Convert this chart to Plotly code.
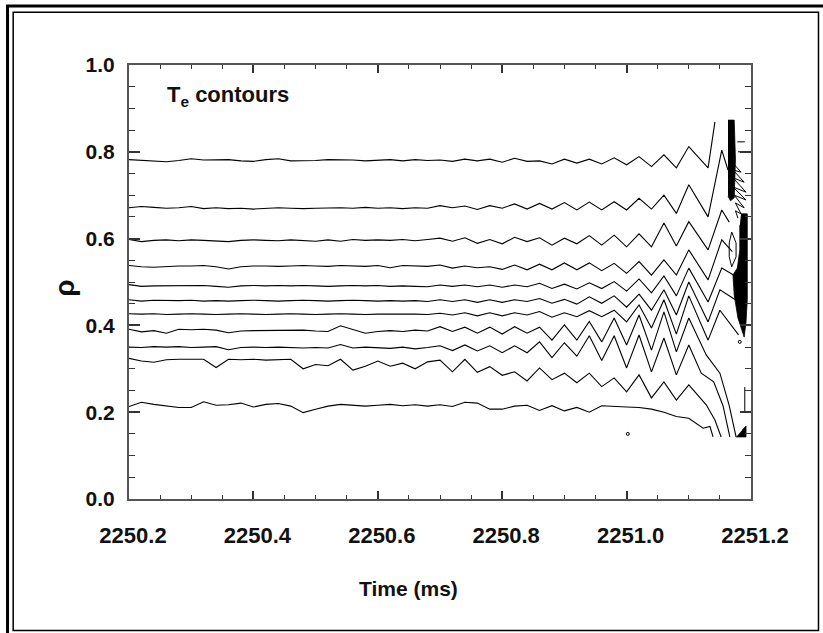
import plotly.graph_objects as go

# ---- time base of the contour tracing (ms) ----
TIME = [2250.20, 2250.22, 2250.24, 2250.26, 2250.28, 2250.30, 2250.32, 2250.34,
        2250.36, 2250.38, 2250.40, 2250.42, 2250.44, 2250.46, 2250.48, 2250.50,
        2250.52, 2250.54, 2250.56, 2250.58, 2250.60, 2250.62, 2250.64, 2250.66,
        2250.68, 2250.70, 2250.72, 2250.74, 2250.76, 2250.78, 2250.80, 2250.82,
        2250.84, 2250.86, 2250.88, 2250.90, 2250.92, 2250.94, 2250.96, 2250.98,
        2251.00, 2251.02, 2251.04, 2251.06, 2251.08, 2251.10]

# ---- Te contour positions (rho) on the time base, outermost level first ----
rho_c1 = [0.782, 0.780, 0.778, 0.777, 0.780, 0.784, 0.781, 0.781, 0.782, 0.779, 0.778, 0.782, 0.784,
          0.779, 0.779, 0.780, 0.782, 0.782, 0.781, 0.779, 0.781, 0.782, 0.779, 0.782, 0.780, 0.781,
          0.778, 0.783, 0.779, 0.783, 0.776, 0.785, 0.778, 0.779, 0.772, 0.783, 0.774, 0.783, 0.772,
          0.786, 0.770, 0.789, 0.766, 0.793, 0.763, 0.812]
rho_c2 = [0.671, 0.674, 0.672, 0.670, 0.671, 0.674, 0.669, 0.671, 0.669, 0.670, 0.668, 0.670, 0.671,
          0.670, 0.669, 0.670, 0.671, 0.671, 0.670, 0.672, 0.670, 0.671, 0.669, 0.671, 0.670, 0.676,
          0.671, 0.675, 0.667, 0.676, 0.670, 0.680, 0.668, 0.681, 0.668, 0.683, 0.666, 0.684, 0.666,
          0.685, 0.666, 0.693, 0.668, 0.700, 0.658, 0.724]
rho_c3 = [0.598, 0.593, 0.596, 0.597, 0.595, 0.597, 0.596, 0.594, 0.593, 0.596, 0.597, 0.596, 0.595,
          0.597, 0.596, 0.594, 0.597, 0.594, 0.598, 0.596, 0.597, 0.596, 0.598, 0.595, 0.598, 0.601,
          0.594, 0.602, 0.589, 0.598, 0.588, 0.603, 0.593, 0.602, 0.585, 0.601, 0.588, 0.607, 0.585,
          0.608, 0.581, 0.611, 0.581, 0.636, 0.583, 0.639]
rho_c4 = [0.538, 0.535, 0.534, 0.536, 0.537, 0.537, 0.538, 0.535, 0.530, 0.535, 0.537, 0.537, 0.536,
          0.537, 0.538, 0.537, 0.536, 0.538, 0.537, 0.536, 0.538, 0.533, 0.538, 0.537, 0.536, 0.539,
          0.532, 0.537, 0.533, 0.535, 0.529, 0.539, 0.528, 0.541, 0.528, 0.544, 0.528, 0.544, 0.526,
          0.543, 0.520, 0.547, 0.516, 0.551, 0.516, 0.574]
rho_c5 = [0.494, 0.490, 0.491, 0.491, 0.492, 0.491, 0.492, 0.490, 0.488, 0.491, 0.492, 0.491, 0.492,
          0.491, 0.492, 0.491, 0.490, 0.491, 0.492, 0.491, 0.492, 0.490, 0.491, 0.490, 0.489, 0.493,
          0.490, 0.493, 0.489, 0.493, 0.488, 0.493, 0.489, 0.497, 0.485, 0.495, 0.484, 0.498, 0.485,
          0.501, 0.479, 0.507, 0.475, 0.514, 0.468, 0.532]
rho_c6 = [0.459, 0.456, 0.458, 0.457, 0.457, 0.458, 0.456, 0.457, 0.456, 0.457, 0.458, 0.457, 0.456,
          0.457, 0.458, 0.457, 0.456, 0.457, 0.458, 0.457, 0.456, 0.457, 0.456, 0.457, 0.455, 0.459,
          0.455, 0.459, 0.453, 0.459, 0.453, 0.459, 0.455, 0.462, 0.451, 0.460, 0.449, 0.466, 0.451,
          0.468, 0.442, 0.472, 0.435, 0.482, 0.424, 0.500]
rho_c7 = [0.427, 0.426, 0.427, 0.425, 0.426, 0.427, 0.426, 0.425, 0.426, 0.427, 0.426, 0.425, 0.426,
          0.427, 0.426, 0.425, 0.426, 0.427, 0.426, 0.425, 0.426, 0.426, 0.427, 0.426, 0.425, 0.428,
          0.424, 0.429, 0.422, 0.429, 0.422, 0.429, 0.424, 0.432, 0.419, 0.429, 0.420, 0.434, 0.420,
          0.435, 0.408, 0.447, 0.394, 0.459, 0.380, 0.468]
rho_c8 = [0.391, 0.385, 0.388, 0.382, 0.391, 0.390, 0.391, 0.389, 0.383, 0.387, 0.388, 0.388, 0.388,
          0.388, 0.389, 0.387, 0.386, 0.399, 0.391, 0.382, 0.386, 0.388, 0.386, 0.389, 0.387, 0.397,
          0.386, 0.396, 0.382, 0.396, 0.380, 0.397, 0.382, 0.396, 0.366, 0.401, 0.366, 0.409, 0.362,
          0.417, 0.355, 0.424, 0.343, 0.431, 0.339, 0.417]
rho_c9 = [0.350, 0.349, 0.351, 0.350, 0.351, 0.349, 0.350, 0.351, 0.344, 0.349, 0.350, 0.349, 0.350,
          0.349, 0.348, 0.349, 0.348, 0.356, 0.348, 0.350, 0.349, 0.347, 0.350, 0.346, 0.349, 0.353,
          0.342, 0.355, 0.341, 0.353, 0.337, 0.353, 0.337, 0.362, 0.326, 0.360, 0.329, 0.376, 0.319,
          0.376, 0.302, 0.378, 0.293, 0.371, 0.286, 0.355]
rho_c10 = [0.324, 0.318, 0.315, 0.321, 0.322, 0.322, 0.322, 0.303, 0.322, 0.321, 0.322, 0.320, 0.321,
           0.322, 0.300, 0.310, 0.307, 0.322, 0.297, 0.306, 0.318, 0.306, 0.313, 0.300, 0.316, 0.320,
           0.293, 0.322, 0.292, 0.305, 0.285, 0.293, 0.272, 0.302, 0.275, 0.290, 0.268, 0.290, 0.259,
           0.279, 0.247, 0.286, 0.233, 0.270, 0.228, 0.263]
rho_c11 = [0.213, 0.223, 0.218, 0.215, 0.211, 0.211, 0.224, 0.216, 0.217, 0.221, 0.212, 0.218, 0.220,
           0.214, 0.199, 0.207, 0.214, 0.218, 0.216, 0.214, 0.216, 0.218, 0.215, 0.217, 0.214, 0.217,
           0.213, 0.223, 0.221, 0.207, 0.207, 0.214, 0.216, 0.204, 0.215, 0.203, 0.211, 0.200, 0.215,
           0.213, 0.212, 0.211, 0.207, 0.200, 0.190, 0.186]

# ---- contour ends past 2251.10 ms, where the crash sets in ----
tail_t_c1 = [2251.131, 2251.142]
tail_rho_c1 = [0.763, 0.869]
tail_t_c2 = [2251.131, 2251.153, 2251.163]
tail_rho_c2 = [0.650, 0.804, 0.758]
tail_t_c3 = [2251.131, 2251.153, 2251.165]
tail_rho_c3 = [0.574, 0.666, 0.638]
tail_t_c4 = [2251.131, 2251.153, 2251.170]
tail_rho_c4 = [0.505, 0.597, 0.570]
tail_t_c5 = [2251.131, 2251.153, 2251.172]
tail_rho_c5 = [0.454, 0.532, 0.516]
tail_t_c6 = [2251.131, 2251.150, 2251.175]
tail_rho_c6 = [0.408, 0.482, 0.459]
tail_t_c7 = [2251.131, 2251.150, 2251.180]
tail_rho_c7 = [0.366, 0.435, 0.378]
tail_t_c8 = [2251.128, 2251.150, 2251.165, 2251.176]
tail_rho_c8 = [0.332, 0.290, 0.215, 0.143]
tail_t_c9 = [2251.120, 2251.140, 2251.155, 2251.166]
tail_rho_c9 = [0.290, 0.270, 0.215, 0.143]
tail_t_c10 = [2251.128, 2251.142, 2251.152]
tail_rho_c10 = [0.217, 0.182, 0.143]
tail_t_c11 = [2251.123, 2251.134, 2251.139]
tail_rho_c11 = [0.163, 0.167, 0.143]

# ---- tightly packed contours at the crash (drawn as solid patches) ----
bar_t = [2251.163, 2251.173, 2251.175, 2251.173, 2251.167, 2251.163]
bar_rho = [0.873, 0.873, 0.783, 0.694, 0.687, 0.698]
hatch_t = [2251.171, 2251.184, 2251.171, 2251.189, 2251.171, 2251.192, 2251.171,
           2251.192, 2251.173, 2251.189, 2251.175, 2251.184, 2251.175, 2251.179]
hatch_rho = [0.774, 0.753, 0.758, 0.730, 0.740, 0.707, 0.719,
             0.689, 0.700, 0.671, 0.682, 0.657, 0.664, 0.647]
wedge_t = [2251.184, 2251.194, 2251.194, 2251.192, 2251.189, 2251.179,
           2251.173, 2251.171, 2251.178, 2251.182, 2251.182]
wedge_rho = [0.657, 0.657, 0.459, 0.408, 0.373, 0.417,
             0.470, 0.516, 0.532, 0.574, 0.631]
loop_t = [2251.169, 2251.176, 2251.176, 2251.169, 2251.165, 2251.165, 2251.169]
loop_rho = [0.615, 0.590, 0.558, 0.535, 0.558, 0.590, 0.615]
foot_t = [2251.176, 2251.192, 2251.192, 2251.186]
foot_rho = [0.143, 0.143, 0.168, 0.159]
stub_t = [[2251.190, 2251.190], [2251.178, 2251.190], [2251.179, 2251.198]]
stub_rho = [[0.258, 0.198], [0.823, 0.823], [0.800, 0.800]]
island_t = [2251.002, 2251.182]
island_rho = [0.150, 0.362]

X_TICKS = [2250.2, 2250.4, 2250.6, 2250.8, 2251.0, 2251.2]
Y_TICKS = [0.0, 0.2, 0.4, 0.6, 0.8, 1.0]

levels = [
    (rho_c1, tail_t_c1, tail_rho_c1), (rho_c2, tail_t_c2, tail_rho_c2),
    (rho_c3, tail_t_c3, tail_rho_c3), (rho_c4, tail_t_c4, tail_rho_c4),
    (rho_c5, tail_t_c5, tail_rho_c5), (rho_c6, tail_t_c6, tail_rho_c6),
    (rho_c7, tail_t_c7, tail_rho_c7), (rho_c8, tail_t_c8, tail_rho_c8),
    (rho_c9, tail_t_c9, tail_rho_c9), (rho_c10, tail_t_c10, tail_rho_c10),
    (rho_c11, tail_t_c11, tail_rho_c11),
]

INK = "black"
fig = go.Figure()

for rho, tt, tr in levels:
    fig.add_trace(go.Scatter(x=TIME + tt, y=rho + tr, mode="lines",
                             line=dict(color=INK, width=1.1), hoverinfo="skip"))

for px_, py_ in [(bar_t, bar_rho), (wedge_t, wedge_rho), (foot_t, foot_rho)]:
    fig.add_trace(go.Scatter(x=px_, y=py_, mode="lines", fill="toself", fillcolor=INK,
                             line=dict(color=INK, width=0.8), hoverinfo="skip"))

fig.add_trace(go.Scatter(x=hatch_t, y=hatch_rho, mode="lines",
                         line=dict(color=INK, width=1), hoverinfo="skip"))
fig.add_trace(go.Scatter(x=loop_t, y=loop_rho, mode="lines",
                         line=dict(color=INK, width=1), hoverinfo="skip"))
for st, sr in zip(stub_t, stub_rho):
    fig.add_trace(go.Scatter(x=st, y=sr, mode="lines",
                             line=dict(color=INK, width=1), hoverinfo="skip"))
fig.add_trace(go.Scatter(x=island_t, y=island_rho, mode="markers",
                         marker=dict(symbol="circle-open", size=3, color=INK,
                                     line=dict(width=1, color=INK)),
                         hoverinfo="skip"))

SANS = "Liberation Sans, Arial, sans-serif"
tick_font = dict(family=SANS, size=21, color="#111", weight="bold")

axis_common = dict(
    showgrid=False, zeroline=False, showline=True, linecolor="#555", linewidth=2,
    mirror="ticks", ticks="inside", tickcolor="#333", tickwidth=1.5,
)

fig.update_xaxes(
    range=[2250.2, 2251.2], tickmode="array", tickvals=X_TICKS,
    ticktext=[f"{v:.1f}" for v in X_TICKS], ticklen=8,
    minor=dict(tickmode="linear", tick0=2250.2, dtick=0.05, ticks="inside",
               ticklen=4, tickcolor="#333", tickwidth=1.2),
    tickfont=dict(tick_font, size=22), ticklabelstandoff=16, ticklabelshift=4,
    **axis_common)
fig.update_yaxes(
    range=[0, 1.0], tickmode="array", tickvals=Y_TICKS,
    ticktext=[f"{v:.1f}" for v in Y_TICKS], ticklen=11,
    minor=dict(tickmode="linear", tick0=0, dtick=0.05, ticks="inside",
               ticklen=6, tickcolor="#333", tickwidth=1.2),
    tickfont=tick_font, ticklabelstandoff=8, **axis_common)

fig.update_layout(
    width=823, height=633, showlegend=False,
    margin=dict(l=129, r=72, t=65, b=134),
    paper_bgcolor="white", plot_bgcolor="white",
    annotations=[
        dict(text="T<sub>e</sub> contours", xref="paper", yref="paper",
             x=0.058, y=0.928, xanchor="left", yanchor="middle", showarrow=False,
             font=dict(family=SANS, size=22, color="#111", weight="bold")),
        dict(text="Time (ms)", xref="paper", yref="paper",
             x=0.450, y=-0.207, xanchor="center", yanchor="middle", showarrow=False,
             font=dict(family=SANS, size=21, color="#111", weight="bold")),
        dict(text="ρ", xref="paper", yref="paper", textangle=-90,
             x=-0.105, y=0.486, xanchor="center", yanchor="middle", showarrow=False,
             font=dict(family=SANS, size=28, color="#111", weight="bold")),
    ],
    shapes=[
        dict(type="rect", xref="paper", yref="paper", x0=-0.1953, x1=1.125,
             y0=-0.33, y1=1.1359, line=dict(color="black", width=3)),
        dict(type="rect", xref="paper", yref="paper", x0=-0.1862, x1=1.1085,
             y0=-0.3030, y1=1.1214, line=dict(color="black", width=1.5)),
    ],
)

fig.write_html("out.html")
